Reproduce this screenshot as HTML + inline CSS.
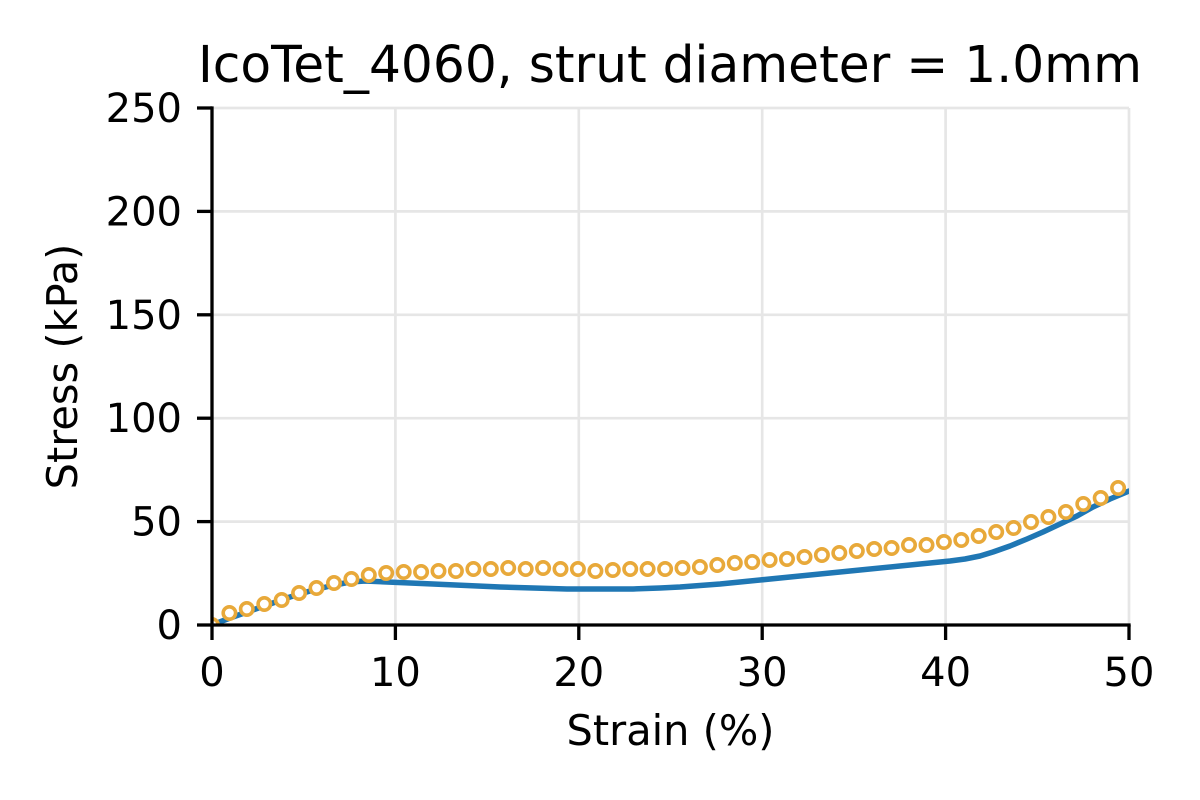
<!DOCTYPE html>
<html>
<head>
<meta charset="utf-8">
<style>
html,body{margin:0;padding:0;background:#fff;}
svg{display:block;}
text{font-family:"DejaVu Sans","Liberation Sans",sans-serif;fill:#000;}
</style>
</head>
<body>
<svg width="1200" height="800" viewBox="0 0 1200 800" xmlns="http://www.w3.org/2000/svg">
<rect width="1200" height="800" fill="#fff"/>
<defs>
<clipPath id="ax"><rect x="212" y="108" width="917" height="517"/></clipPath>
</defs>
<g stroke="#e6e6e6" stroke-width="2.7">
<line x1="395.4" y1="108" x2="395.4" y2="625"/>
<line x1="578.8" y1="108" x2="578.8" y2="625"/>
<line x1="762.2" y1="108" x2="762.2" y2="625"/>
<line x1="945.6" y1="108" x2="945.6" y2="625"/>
<line x1="1129" y1="108" x2="1129" y2="625"/>
<line x1="212" y1="108" x2="1129" y2="108"/>
<line x1="212" y1="211.4" x2="1129" y2="211.4"/>
<line x1="212" y1="314.8" x2="1129" y2="314.8"/>
<line x1="212" y1="418.2" x2="1129" y2="418.2"/>
<line x1="212" y1="521.6" x2="1129" y2="521.6"/>
</g>
<g clip-path="url(#ax)">
<polyline fill="none" stroke="#1f77b4" stroke-width="5.5" stroke-linejoin="round" stroke-linecap="round"
points="212,625 230,618 250,611 270,604 290,597 310,591 330,586 350,582 365,581 387,582 433,584 500,587 567,589 633,589 660,588 680,587 720,584 760,580 800,576 860,570 900,566 930,563 950,561 965,559 980,556 993,552 1010,546 1027,539 1043,532 1060,524 1077,516 1093,507 1110,499 1129,491"/>
<g fill="#fff" stroke="#e8a93a" stroke-width="3.6">
<circle cx="212" cy="625" r="6.2"/>
<circle cx="229.4" cy="613" r="6.2"/>
<circle cx="246.8" cy="609" r="6.2"/>
<circle cx="264.3" cy="604" r="6.2"/>
<circle cx="281.7" cy="600" r="6.2"/>
<circle cx="299.1" cy="593" r="6.2"/>
<circle cx="316.5" cy="588" r="6.2"/>
<circle cx="334" cy="583" r="6.2"/>
<circle cx="351.4" cy="579" r="6.2"/>
<circle cx="368.8" cy="575" r="6.2"/>
<circle cx="386.2" cy="573" r="6.2"/>
<circle cx="403.7" cy="572" r="6.2"/>
<circle cx="421.1" cy="572" r="6.2"/>
<circle cx="438.5" cy="571" r="6.2"/>
<circle cx="455.9" cy="571" r="6.2"/>
<circle cx="473.4" cy="569" r="6.2"/>
<circle cx="490.8" cy="569" r="6.2"/>
<circle cx="508.2" cy="568" r="6.2"/>
<circle cx="525.7" cy="569" r="6.2"/>
<circle cx="543.1" cy="568" r="6.2"/>
<circle cx="560.5" cy="569" r="6.2"/>
<circle cx="577.9" cy="569" r="6.2"/>
<circle cx="595.4" cy="571" r="6.2"/>
<circle cx="612.8" cy="570" r="6.2"/>
<circle cx="630.2" cy="569" r="6.2"/>
<circle cx="647.6" cy="569" r="6.2"/>
<circle cx="665.1" cy="569" r="6.2"/>
<circle cx="682.5" cy="568" r="6.2"/>
<circle cx="699.9" cy="567" r="6.2"/>
<circle cx="717.3" cy="565" r="6.2"/>
<circle cx="734.8" cy="563" r="6.2"/>
<circle cx="752.2" cy="562" r="6.2"/>
<circle cx="769.6" cy="560" r="6.2"/>
<circle cx="787" cy="559" r="6.2"/>
<circle cx="804.5" cy="557" r="6.2"/>
<circle cx="821.9" cy="555" r="6.2"/>
<circle cx="839.3" cy="553" r="6.2"/>
<circle cx="856.8" cy="551" r="6.2"/>
<circle cx="874.2" cy="549" r="6.2"/>
<circle cx="891.6" cy="548" r="6.2"/>
<circle cx="909" cy="545" r="6.2"/>
<circle cx="926.5" cy="545" r="6.2"/>
<circle cx="943.9" cy="542" r="6.2"/>
<circle cx="961.3" cy="540" r="6.2"/>
<circle cx="978.7" cy="536" r="6.2"/>
<circle cx="996.2" cy="532" r="6.2"/>
<circle cx="1013.6" cy="528" r="6.2"/>
<circle cx="1031" cy="522" r="6.2"/>
<circle cx="1048.4" cy="517" r="6.2"/>
<circle cx="1065.9" cy="512" r="6.2"/>
<circle cx="1083.3" cy="504" r="6.2"/>
<circle cx="1100.7" cy="498" r="6.2"/>
<circle cx="1118.1" cy="488" r="6.2"/>
</g>
</g>
<g stroke="#000" stroke-width="3.3" stroke-linecap="square">
<line x1="212" y1="108" x2="212" y2="625"/>
<line x1="212" y1="625" x2="1129" y2="625"/>
</g>
<g stroke="#000" stroke-width="3.3">
<line x1="197" y1="625" x2="212" y2="625"/>
<line x1="197" y1="521.6" x2="212" y2="521.6"/>
<line x1="197" y1="418.2" x2="212" y2="418.2"/>
<line x1="197" y1="314.8" x2="212" y2="314.8"/>
<line x1="197" y1="211.4" x2="212" y2="211.4"/>
<line x1="197" y1="108" x2="212" y2="108"/>
<line x1="212" y1="625" x2="212" y2="640"/>
<line x1="395.4" y1="625" x2="395.4" y2="640"/>
<line x1="578.8" y1="625" x2="578.8" y2="640"/>
<line x1="762.2" y1="625" x2="762.2" y2="640"/>
<line x1="945.6" y1="625" x2="945.6" y2="640"/>
<line x1="1129" y1="625" x2="1129" y2="640"/>
</g>
<g font-size="40" text-anchor="end">
<text x="182" y="639">0</text>
<text x="182" y="535.6">50</text>
<text x="182" y="432.2">100</text>
<text x="182" y="328.8">150</text>
<text x="182" y="225.4">200</text>
<text x="182" y="122">250</text>
</g>
<g font-size="40" text-anchor="middle">
<text x="212" y="686">0</text>
<text x="395.4" y="686">10</text>
<text x="578.8" y="686">20</text>
<text x="762.2" y="686">30</text>
<text x="945.6" y="686">40</text>
<text x="1129" y="686">50</text>
</g>
<text x="670.5" y="745" font-size="41.5" text-anchor="middle">Strain (%)</text>
<text transform="translate(77,366.5) rotate(-90)" font-size="41.5" text-anchor="middle">Stress (kPa)</text>
<text x="670" y="82" font-size="50.5" text-anchor="middle" textLength="944" lengthAdjust="spacingAndGlyphs">IcoTet_4060, strut diameter = 1.0mm</text>
</svg>
</body>
</html>
